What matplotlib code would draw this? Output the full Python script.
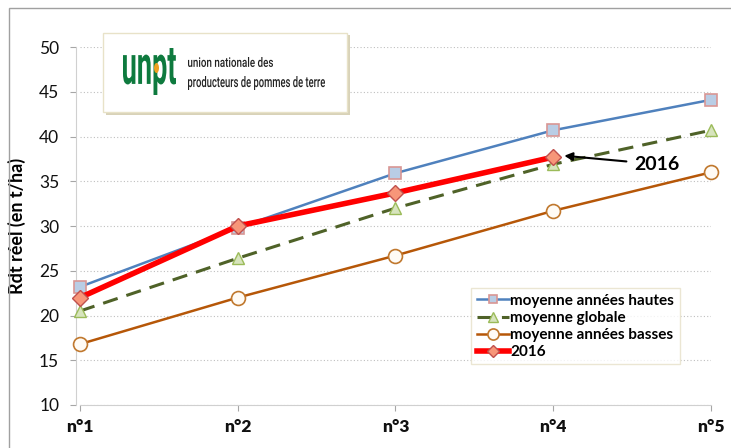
import matplotlib.pyplot as plt
from matplotlib.patches import Rectangle, Ellipse, PathPatch
from matplotlib.textpath import TextPath
from matplotlib.font_manager import FontProperties
from matplotlib.transforms import Affine2D, IdentityTransform

plt.rcParams['font.family'] = ['Lato', 'DejaVu Sans']

# Rendement réel par tranche (t/ha)
categories = ['n°1', 'n°2', 'n°3', 'n°4', 'n°5']
moy_hautes = [23.2, 29.8, 35.9, 40.7, 44.1]
moy_globale = [20.5, 26.4, 32.0, 36.9, 40.7]
moy_basses = [16.8, 22.0, 26.7, 31.7, 36.0]
an_2016 = [22.0, 30.0, 33.7, 37.7]

W, H = 731, 448
fig = plt.figure(figsize=(W / 100, H / 100), dpi=100)
ax = fig.add_axes([0.1094, 0.096, 0.8632, 0.799])

x = list(range(len(categories)))

ax.plot(x, moy_hautes, color='#4F81BD', lw=1.8, marker='s', ms=8,
        mfc='#B9CDE5', mec='#D99694', mew=1.2, label='moyenne années hautes', zorder=3)
ax.plot(x, moy_globale, color='#4F6228', lw=2.2, ls=(0, (5, 3)), marker='^', ms=9,
        mfc='#D7E4BD', mec='#9BBB59', mew=1.0, label='moyenne globale', zorder=3)
ax.plot(x, moy_basses, color='#B65708', lw=1.8, marker='o', ms=10,
        mfc='#FFFBF5', mec='#C0782E', mew=1.2, label='moyenne années basses', zorder=3)
ax.plot(x[:len(an_2016)], an_2016, color='#FF0000', lw=4, marker='D', ms=8,
        mfc='#F79679', mec='#C0504D', mew=1.0, label='2016', zorder=4)
for ln in ax.lines:
    ln.set_clip_on(False)

ax.set_xlim(0, 4)
ax.set_ylim(10, 50)
ax.set_yticks(range(10, 51, 5))
ax.set_xticks(x)
ax.set_xticklabels(categories)
ax.tick_params(axis='both', labelsize=12.5, color='#A6A6A6', labelcolor='#111111', length=4)
ax.tick_params(axis='x', pad=6)
ax.tick_params(axis='y', pad=8)
plt.setp(ax.get_xticklabels() + ax.get_yticklabels(), fontweight='heavy')
ax.grid(axis='y', color='#BFBFBF', ls=(0, (1, 2)), lw=0.8)
ax.set_axisbelow(True)
for side in ['top', 'right']:
    ax.spines[side].set_visible(False)
ax.spines['left'].set_color('#D0D0D0')
ax.spines['bottom'].set_color('#D0D0D0')
ax.spines['left'].set_position(('outward', 3))

ax.set_ylabel('Rdt réel (en t/ha)', fontsize=13, fontweight='bold', labelpad=9)

leg = ax.legend(loc='lower right', bbox_to_anchor=(0.955, 0.105),
                prop={'weight': 'bold', 'size': 11}, frameon=True, fancybox=False,
                handlelength=2.1, handletextpad=0.1, borderpad=0.35, labelspacing=0.2,
                borderaxespad=0.2, markerscale=0.8)
leg.get_frame().set_edgecolor('#E6E0C8')
leg.get_frame().set_linewidth(1.0)

ax.annotate('2016', xy=(3.07, 37.85), xytext=(3.66, 36.9), fontsize=14, fontweight='bold',
            ha='center', va='center',
            arrowprops=dict(arrowstyle='-|>', color='black', lw=1.5,
                            mutation_scale=12, shrinkA=4, shrinkB=0))


def boxed_text(s, x0, x1, ytop, ybot, color, weight='normal', family='Roboto'):
    # texte étiré pour remplir une boîte donnée en pixels (origine en haut à gauche)
    path = TextPath((0, 0), s, size=50, prop=FontProperties(family=family, weight=weight))
    ext = path.get_extents()
    sx = (x1 - x0) / ext.width
    sy = (ybot - ytop) / ext.height
    tr = (Affine2D().translate(-ext.x0, -ext.y0).scale(sx, sy)
          .translate(x0, H - ybot))
    patch = PathPatch(tr.transform_path(path), facecolor=color, edgecolor='none',
                      transform=IdentityTransform(), zorder=7)
    fig.add_artist(patch)


# cartouche du logo
fig.patches.append(Rectangle((106 / W, 1 - 115 / H), 244 / W, 80 / H,
                             transform=fig.transFigure, facecolor='#D8D2B8',
                             edgecolor='none', zorder=5))
fig.patches.append(Rectangle((103 / W, 1 - 112 / H), 244 / W, 79 / H,
                             transform=fig.transFigure, facecolor='white',
                             edgecolor='#E8E2C8', lw=1.0, zorder=6))
boxed_text('unpt', 123, 176, 48, 95, '#0E7A3E', weight='bold')
fig.patches.append(Ellipse((156.5 / W, 1 - 68 / H), 5 / W, 10 / H,
                           transform=fig.transFigure, facecolor='#F0A020',
                           edgecolor='none', zorder=8))
boxed_text('union nationale des', 188, 273, 57, 67, '#222222', weight='medium')
boxed_text('producteurs de pommes de terre', 188, 325, 76, 90, '#222222', weight='medium')

# cadre extérieur
fig.patches.append(Rectangle((9 / W, -0.05), 1.0, 1 - 8 / H + 0.05,
                             transform=fig.transFigure, facecolor='none',
                             edgecolor='#A0A0A0', lw=1.0, zorder=1))

fig.savefig('out.png', dpi=100)
